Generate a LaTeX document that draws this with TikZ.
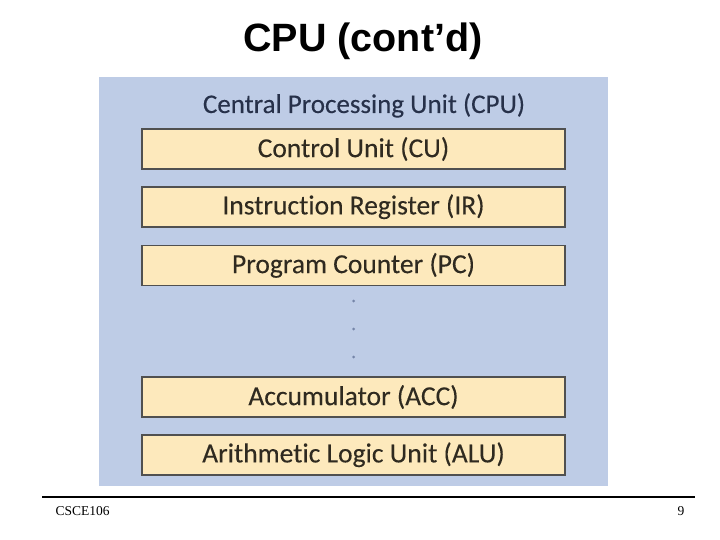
\documentclass[tikz,border=0pt]{standalone}
\usepackage{fontspec}
\setmainfont{Liberation Serif}
\newfontfamily\titlefont{Liberation Sans}
\newfontfamily\regfont[Ligatures=NoCommon, FakeBold=0.15]{Carlito}
\usetikzlibrary{positioning}
\definecolor{panelblue}{HTML}{BECCE6}
\definecolor{regfill}{HTML}{FDE9BC}
\definecolor{regline}{HTML}{505050}
\definecolor{navytext}{HTML}{27314A}
\definecolor{regtext}{HTML}{2F2A20}
\definecolor{dotgray}{HTML}{7585A8}
\tikzset{
	regbox/.style={draw=regline, line width=1.7pt, fill=regfill, minimum width=423pt,
	  minimum height=40pt, inner sep=0pt, text=regtext, font=\regfont\fontsize{27.5}{27.5}\selectfont}
}
\tikzset{
	foottext/.style={font=\fontsize{13.5}{13.5}\selectfont}
}

\begin{document}
\begin{tikzpicture}[x=1pt, y=-1pt]
      \useasboundingbox (0,0) rectangle (720,540);
      \node[anchor=base, font=\titlefont\bfseries\fontsize{39.5}{39.5}\selectfont] (title) at (363,52) {CPU (cont’d)};
      \fill[panelblue] (99,77) rectangle (608,486);
      \node[anchor=base, text=navytext, font=\regfont\fontsize{27}{27}\selectfont] (cpu) at (364,113) {Central Processing Unit (CPU)};
      \node[regbox] (cu) at (353.5,149) {Control Unit (CU)};
      \node[regbox, below=16pt of cu] (ir) {Instruction Register (IR)};
      \node[regbox, below=17pt of ir] (pc) {Program Counter (PC)};
      \foreach \y in {301, 329, 357}
        \fill[dotgray] (353.5,\y) circle (1.5pt);
      \node[regbox] (acc) at (353.5,397) {Accumulator (ACC)};
      \node[regbox, below=16pt of acc] (alu) {Arithmetic Logic Unit (ALU)};
      \draw[line width=2pt] (42,497) -- (695,497);
      \node[anchor=base west, foottext] (course) at (52,515) {CSCE106};
      \node[anchor=base east, foottext] (page) at (688,515) {9};
    \end{tikzpicture}
\end{document}
